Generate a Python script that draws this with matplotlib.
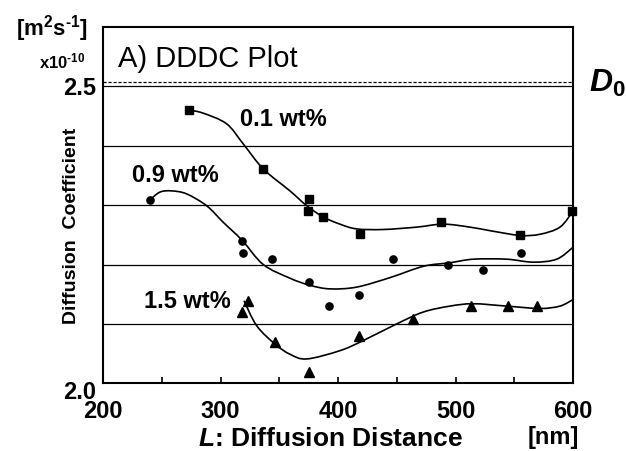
import matplotlib
matplotlib.use('Agg')
import matplotlib.pyplot as plt
from matplotlib.path import Path
from matplotlib.patches import PathPatch
import numpy as np

plt.rcParams['font.family'] = ['Liberation Sans', 'DejaVu Sans']
plt.rcParams['mathtext.fontset'] = 'custom'
plt.rcParams['mathtext.rm'] = 'Liberation Sans:bold'
plt.rcParams['mathtext.bf'] = 'Liberation Sans:bold'
plt.rcParams['mathtext.it'] = 'Liberation Sans:italic:bold'

# measured points
sq_x = [273.4, 336.4, 375.6, 374.7, 387.5, 418.7, 488.0, 554.9, 598.8]
sq_y = [2.460, 2.361, 2.310, 2.290, 2.280, 2.251, 2.271, 2.250, 2.290]
ci_x = [240.0, 318.3, 319.1, 344.1, 375.6, 392.6, 418.1, 446.5, 493.9, 523.0, 555.5]
ci_y = [2.309, 2.240, 2.219, 2.210, 2.171, 2.130, 2.149, 2.209, 2.200, 2.190, 2.219]
tr_x = [323.7, 318.0, 346.4, 375.6, 418.1, 464.1, 512.9, 544.4, 569.0]
tr_y = [2.139, 2.120, 2.069, 2.019, 2.080, 2.109, 2.130, 2.130, 2.130]

# fitted curves
fit01_x = [273.4, 285.1, 305.2, 319.4, 336.4, 359.1, 373.4, 387.5, 401.7, 415.9,
           438.6, 466.9, 489.6, 512.3, 529.4, 555.0, 571.9, 588.9, 600.0]
fit01_y = [2.460, 2.455, 2.437, 2.403, 2.361, 2.324, 2.299, 2.280, 2.268, 2.260,
           2.259, 2.263, 2.268, 2.263, 2.257, 2.249, 2.251, 2.263, 2.290]
fit09_x = [240.0, 248.5, 258.4, 271.1, 288.2, 302.4, 318.3, 336.4, 359.1, 376.2,
           393.2, 415.9, 444.3, 472.6, 495.3, 515.2, 543.5, 566.2, 586.1, 600.0]
fit09_y = [2.309, 2.322, 2.324, 2.319, 2.299, 2.271, 2.241, 2.200, 2.177, 2.165,
           2.159, 2.162, 2.178, 2.197, 2.203, 2.209, 2.209, 2.204, 2.209, 2.229]
fit15_x = [320.0, 330.8, 346.4, 359.1, 373.3, 401.7, 421.5, 449.9, 472.6, 495.3,
           515.2, 543.5, 571.9, 588.9, 600.0]
fit15_y = [2.139, 2.097, 2.066, 2.049, 2.041, 2.055, 2.072, 2.100, 2.120, 2.130,
           2.134, 2.130, 2.126, 2.130, 2.141]

grid_y = [2.1, 2.2, 2.3, 2.4, 2.5]
d0 = 2.508
ytick_vals = [2.0, 2.5]
ytick_labels = ['2.0', '2.5']


def smooth_path(xs, ys):
    pts = np.column_stack([xs, ys])
    p = np.vstack([pts[0], pts, pts[-1]])
    verts = [pts[0]]
    codes = [Path.MOVETO]
    for i in range(1, len(p) - 2):
        p0, p1, p2, p3 = p[i - 1], p[i], p[i + 1], p[i + 2]
        verts += [p1 + (p2 - p0) / 6, p2 - (p3 - p1) / 6, p2]
        codes += [Path.CURVE4] * 3
    return Path(verts, codes)


fig = plt.figure(figsize=(6.26, 4.52), dpi=100)
ax = fig.add_axes([103 / 626, (452 - 384.3) / 452, 470 / 626, (384.3 - 28) / 452])
ax.set_xlim(200, 600)
ax.set_ylim(2.0, 2.6)

for g in grid_y:
    ax.axhline(g, color='black', lw=0.9, zorder=1)
ax.axhline(d0, color='black', lw=0.9, ls=(0, (2.5, 1.5)), zorder=1)

for fx, fy in [(fit01_x, fit01_y), (fit09_x, fit09_y), (fit15_x, fit15_y)]:
    ax.add_patch(PathPatch(smooth_path(fx, fy), fill=False, lw=1.2,
                           edgecolor='black', zorder=2))

ax.plot(sq_x, sq_y, 's', color='black', ms=5.8, zorder=3, clip_on=False)
ax.plot(ci_x, ci_y, 'o', color='black', ms=5.2, zorder=3)
ax.plot(tr_x, tr_y, '^', color='black', ms=6.8, zorder=3)

for s in ax.spines.values():
    s.set_linewidth(1.5)

ax.set_xticks([200, 300, 400, 500, 600])
ax.set_xticks([250, 350, 450, 550], minor=True)
ax.tick_params(axis='x', which='both', direction='in', length=4, width=1.2)
ax.tick_params(axis='x', which='major', pad=11, labelsize=17)
for lab in ax.get_xticklabels():
    lab.set_fontweight('bold')

# y labels only at 2.0 and 2.5; the 2.0 sits slightly below the axis line
ax.set_yticks([])
offsets = [-6, -1]
for v, t, off in zip(ytick_vals, ytick_labels, offsets):
    ax.annotate(t, xy=(0, v), xycoords=('axes fraction', 'data'),
                xytext=(-5, off), textcoords='offset points',
                ha='right', va='center', fontsize=17, fontweight='bold')

fig.text(208 / 626, 1 - 59 / 452, 'A) DDDC Plot', fontsize=21, ha='center', va='center')
fig.text(283 / 626, 1 - 120 / 452, '0.1 wt%', fontsize=17, fontweight='bold', ha='center', va='center')
fig.text(175 / 626, 1 - 176 / 452, '0.9 wt%', fontsize=17, fontweight='bold', ha='center', va='center')
fig.text(187 / 626, 1 - 302 / 452, '1.5 wt%', fontsize=17, fontweight='bold', ha='center', va='center')

fig.text(52 / 626, 1 - 29 / 452, r'[m$^{2}$s$^{\text{-}1}$]', fontsize=16, fontweight='bold',
         ha='center', va='center')
fig.text(62 / 626, 1 - 61 / 452, r'x10$^{\text{-}10}$', fontsize=12, fontweight='bold',
         ha='center', va='center')
fig.text(589 / 626, 1 - 92 / 452, r'$D_{\mathbf{0}}$', fontsize=23, ha='left', va='baseline')

fig.text(72 / 626, 1 - 226 / 452, 'Diffusion  Coefficient', fontsize=14, fontweight='bold',
         rotation=90, ha='center', va='center')
fig.text(330 / 626, 1 - 446 / 452, r'$L$: Diffusion Distance', fontsize=19, fontweight='bold',
         ha='center', va='baseline')
fig.text(553 / 626, 1 - 444 / 452, '[nm]', fontsize=17, fontweight='bold',
         ha='center', va='baseline')

fig.savefig('out.png', dpi=100)
